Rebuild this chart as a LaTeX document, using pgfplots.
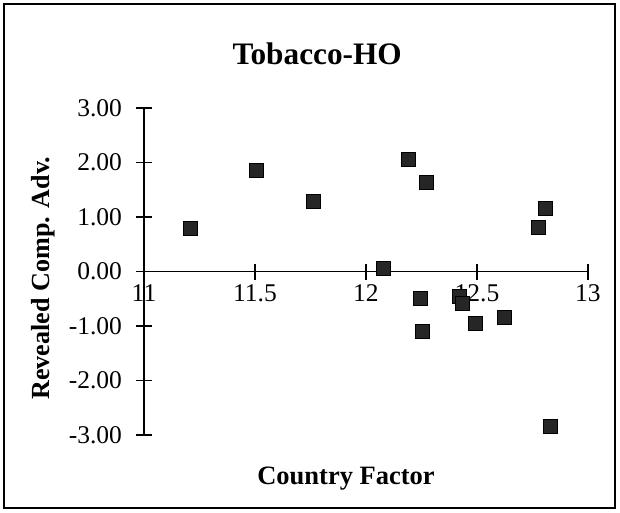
\documentclass[border=0pt]{standalone}
\usepackage{pgfplots}
\pgfplotsset{compat=1.18}
\usepackage{fontspec}
\setmainfont{Liberation Serif}
\begin{document}
\begin{tikzpicture}
\begin{axis}[
  scale only axis,
  width=222bp, height=163.5bp,
  xmin=11, xmax=13, ymin=-3, ymax=3,
  axis x line=middle, axis y line=left,
  axis line style={-, line width=0.7bp},
  every inner x axis line/.append style={-},
  hide obscured x ticks=false, hide obscured y ticks=false,
  xtick={11,11.5,12,12.5,13},
  xticklabels={11,11.5,12,12.5,13},
  ytick={-3,-2,-1,0,1,2,3},
  yticklabels={-3.00,-2.00,-1.00,0.00,1.00,2.00,3.00},
  tick align=center,
  major tick length=8bp,
  tick style={line width=0.7bp, black},
  minor tick num=0,
  ticklabel style={font=\fontsize{12.8}{14}\selectfont},
  yticklabel style={xshift=-3.5bp},
  xticklabel style={yshift=1bp},
  title={\textbf{Tobacco-HO}},
  title style={at={(axis description cs:0.390,1.128)}, anchor=center, font=\fontsize{15.7}{18}\selectfont},
  xlabel={\textbf{Country Factor}},
  xlabel style={at={(axis description cs:0.455,-0.134)}, anchor=center, font=\fontsize{13.3}{16}\selectfont},
  ylabel={\textbf{Revealed Comp. Adv.}},
  ylabel style={at={(axis description cs:-0.2275,0.480)}, anchor=center, rotate=0, font=\fontsize{13.1}{16}\selectfont},
  clip=false,
]
\addplot[only marks, mark=square*, mark size=3.5bp, black!92, mark options={fill=black!85, draw=black}] coordinates {
(11.207,0.80)
(11.508,1.85)
(11.763,1.28)
(12.079,0.05)
(12.191,2.05)
(12.274,1.64)
(12.244,-0.50)
(12.252,-1.10)
(12.420,-0.46)
(12.435,-0.58)
(12.495,-0.96)
(12.622,-0.84)
(12.775,0.81)
(12.807,1.16)
(12.830,-2.84)
};
\end{axis}
\draw[line width=0.7bp] (-70bp,-36.5bp) rectangle (235.5bp,215.5bp);
\path[use as bounding box] (-72bp,-39bp) rectangle (238bp,217.5bp);
\end{tikzpicture}
\end{document}
